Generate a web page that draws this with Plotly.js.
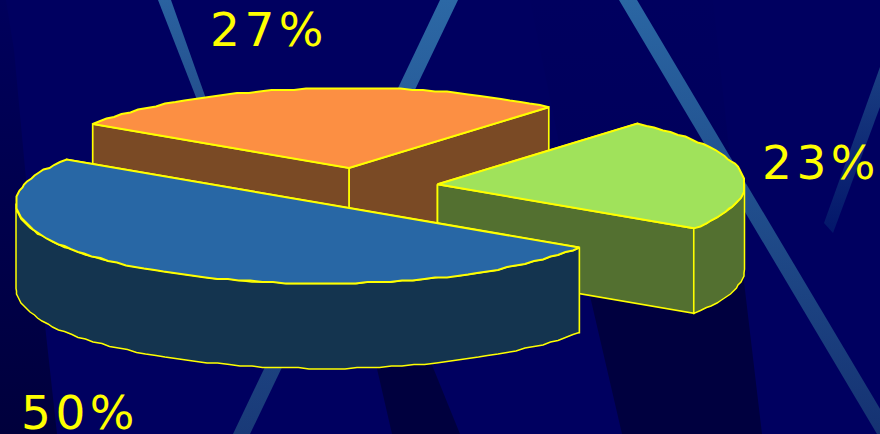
<!DOCTYPE html>
<html>
<head>
<meta charset="utf-8">
<script src="https://cdn.plot.ly/plotly-3.0.1.min.js"></script>
<style>
html,body{margin:0;padding:0;background:#000060;overflow:hidden}
#chart{width:880px;height:434px}
.annotation-text{letter-spacing:4.5px}
</style>
</head>
<body>
<div id="chart"></div>
<script>
// Slice data, in clockwise order starting from the front-right cut
const shares = [50, 27, 23];
const topColors = ['#2867a5', '#fc8f43', '#a0e25b'];
const wallColors = ['#14344f', '#7a4a25', '#537030'];

// Pie geometry, in page pixels
const RX = 307, RY = 80, DEPTH = 85, START_DEG = 33.4;
const centers = [[323, 203.5], [349, 168], [437.5, 184.3]];
const labelSpots = [[20, 430], [209, 47], [761, 180]];
const paintOrder = [1, 2, 0];
const EDGE = '#ffff00';

// Backdrop: light rays and dark wedges, each with a fade listed top to bottom
const backdrop = [
  {x: [0, 6, 14, 27, 45, 57, 0], y: [0, 0, 50, 190, 325, 434, 434], stops: ['#00005c', '#00003c']},
  {x: [375, 430, 460, 392], y: [360, 360, 434, 434], stops: ['#00003e', '#00003e']},
  {x: [530, 713, 727, 745, 762, 622, 590], y: [0, 0, 130, 290, 434, 434, 296], stops: ['#00005f', '#00005c', '#00003f', '#00003f']},
  {x: [158, 171, 210, 201], y: [0, 0, 110, 110], stops: ['#2a62a0', '#234e8c']},
  {x: [440, 458, 250, 233], y: [0, 0, 434, 434], stops: ['#2c68a5', '#193a78']},
  {x: [619, 637, 895, 877], y: [0, 0, 434, 434], stops: ['#2a66a3', '#153272']},
  {x: [880, 880, 833, 824], y: [67, 107, 233, 223], stops: ['#1a3f82', '#03166a']}
];

const rad = d => d * Math.PI / 180;
const step = v => Math.round(v / 1.5) * 1.5;

function rimPoint(c, deg, drop) {
  return [c[0] + RX * Math.cos(rad(deg)), c[1] + RY * Math.sin(rad(deg)) + drop];
}

// Rim polyline, with inner vertices on a coarse grid for the stepped outline
function arc(c, from, to, drop) {
  const pts = [];
  const n = Math.max(2, Math.round((to - from) / 2.2));
  for (let i = 0; i <= n; i++) {
    const p = rimPoint(c, from + (to - from) * i / n, drop);
    const ends = i === 0 || i === n;
    pts.push(ends ? p : [step(p[0]), step(p[1])]);
  }
  return pts;
}

function poly(pts, fill, width) {
  return {
    type: 'scatter', mode: 'lines', hoverinfo: 'skip', showlegend: false,
    x: pts.map(p => p[0]), y: pts.map(p => p[1]),
    fill: 'toself', fillcolor: fill,
    line: {color: EDGE, width: width, simplify: false}
  };
}

// The y axis runs downward, so the gradient scale is given bottom-first
const traces = backdrop.map(b => ({
  type: 'scatter', mode: 'lines', hoverinfo: 'skip', showlegend: false,
  x: b.x.concat(b.x[0]), y: b.y.concat(b.y[0]),
  fill: 'toself', line: {width: 0},
  fillgradient: {
    type: 'vertical',
    colorscale: b.stops.slice().reverse().map((s, i) => [i / (b.stops.length - 1), s])
  }
}));

// Angular extent of each slice comes straight from its share
const total = shares.reduce((a, b) => a + b, 0);
let cursor = START_DEG;
const spans = shares.map(v => {
  const span = [cursor, cursor + v / total * 360];
  cursor = span[1];
  return span;
});

paintOrder.forEach(i => {
  const c = centers[i], from = spans[i][0], to = spans[i][1];
  const wall = wallColors[i];

  // Cut faces: the one further back is painted first
  [from, to]
    .sort((a, b) => rimPoint(c, a, 0)[1] - rimPoint(c, b, 0)[1])
    .forEach(deg => {
      const p = rimPoint(c, deg, 0);
      traces.push(poly([c, p, [p[0], p[1] + DEPTH], [c[0], c[1] + DEPTH], c], wall, 1.7));
    });

  // Curved outer face: only the near half of the rim can be seen
  [0, 360].forEach(turn => {
    const a = Math.max(from, turn), b = Math.min(to, turn + 180);
    if (b > a) {
      const upper = arc(c, a, b, 0);
      const lower = arc(c, a, b, DEPTH).reverse();
      traces.push(poly(upper.concat(lower, [upper[0]]), wall, 1.5));
    }
  });

  // Top face
  traces.push(poly([c].concat(arc(c, from, to, 0), [c]), topColors[i], 2));
});

const annotations = shares.map((v, i) => ({
  text: v + '%', xref: 'x', yref: 'y',
  x: labelSpots[i][0], y: labelSpots[i][1],
  xanchor: 'left', yanchor: 'bottom', yshift: -11,
  showarrow: false, borderpad: 0,
  font: {family: '"DejaVu Sans", sans-serif', size: 47, color: EDGE}
}));

const hidden = {visible: false, fixedrange: true, autorange: false};
const layout = {
  width: 880, height: 434,
  margin: {l: 0, r: 0, t: 0, b: 0},
  paper_bgcolor: '#000060', plot_bgcolor: '#000060',
  showlegend: false,
  xaxis: Object.assign({range: [0, 880]}, hidden),
  yaxis: Object.assign({range: [434, 0]}, hidden),
  annotations: annotations
};

Plotly.newPlot('chart', traces, layout, {displayModeBar: false, staticPlot: true});
</script>
</body>
</html>
